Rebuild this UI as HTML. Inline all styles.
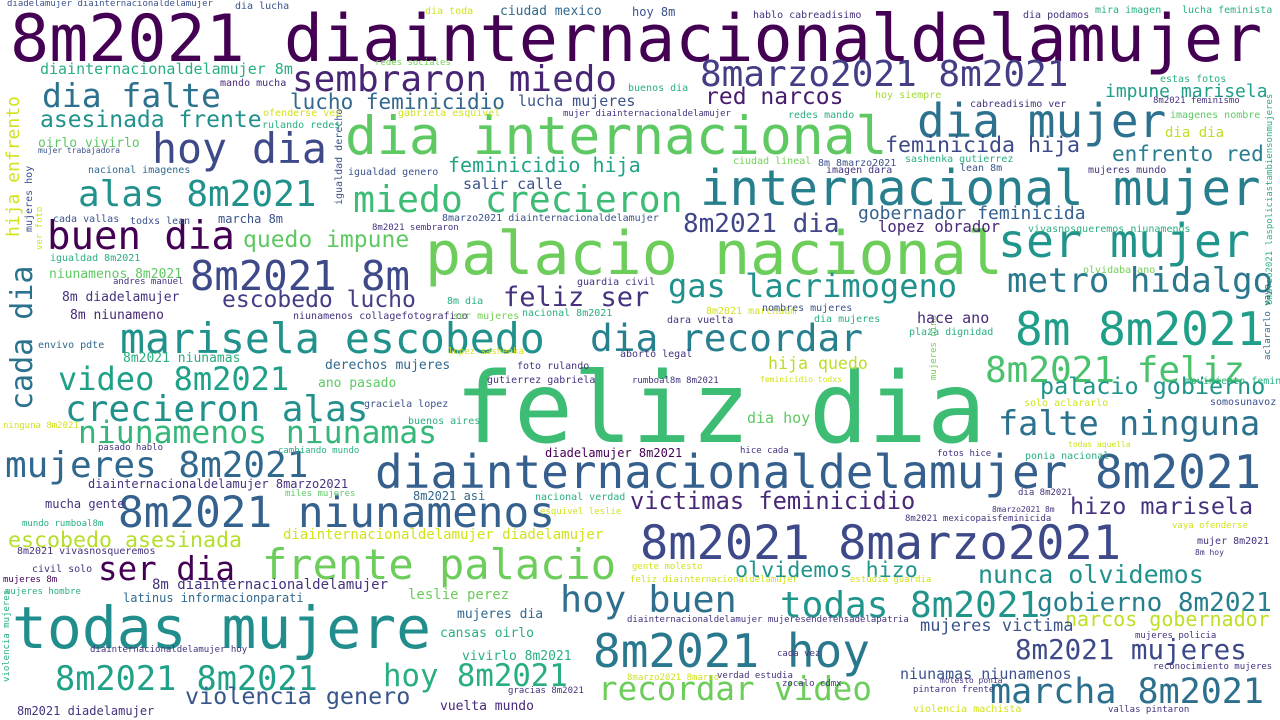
<!DOCTYPE html>
<html><head><meta charset="utf-8"><style>
html,body{margin:0;padding:0;background:#fff}
#cloud{position:relative;width:1280px;height:720px;overflow:hidden;background:#fff;font-family:"DejaVu Sans Mono","Liberation Mono",monospace}
#cloud span{position:absolute;white-space:nowrap;line-height:1}
#cloud span.v{transform-origin:0 0;transform:rotate(-90deg)}
</style></head><body>
<div id="cloud">
<span style="left:10px;top:calc(62px - .846em);font-size:65px;color:#440154">8m2021 diainternacionaldelamujer</span>
<span style="left:455px;top:calc(443px - .846em);font-size:98px;color:#3dbc74">feliz dia</span>
<span style="left:425px;top:calc(275px - .846em);font-size:60px;color:#6ccd5a">palacio nacional</span>
<span style="left:345px;top:calc(155px - .846em);font-size:53px;color:#5ec962">dia internacional</span>
<span style="left:700px;top:calc(205px - .846em);font-size:49px;color:#277f8e">internacional mujer</span>
<span style="left:917px;top:calc(137px - .846em);font-size:46px;color:#2c728e">dia mujer</span>
<span style="left:700px;top:calc(87px - .846em);font-size:36px;color:#433e85">8marzo2021 8m2021</span>
<span style="left:292px;top:calc(92px - .846em);font-size:36px;color:#482475">sembraron miedo</span>
<span style="left:705px;top:calc(105px - .846em);font-size:23px;color:#481b6d">red narcos</span>
<span style="left:1105px;top:calc(98px - .846em);font-size:18px;color:#1f9e89">impune marisela</span>
<span style="left:42px;top:calc(107px - .846em);font-size:33px;color:#2c728e">dia falte</span>
<span style="left:290px;top:calc(110px - .846em);font-size:21px;color:#31688e">lucho feminicidio</span>
<span style="left:518px;top:calc(107px - .846em);font-size:15px;color:#3b528b">lucha mujeres</span>
<span style="left:40px;top:calc(128px - .846em);font-size:23px;color:#21918c">asesinada frente</span>
<span style="left:152px;top:calc(163px - .846em);font-size:41.5px;color:#3e4989">hoy dia</span>
<span style="left:38px;top:calc(148px - .846em);font-size:13px;color:#5ec962">oirlo vivirlo</span>
<span style="left:38px;top:calc(154px - .846em);font-size:8px;color:#3b528b">mujer trabajadora</span>
<span style="left:448px;top:calc(172px - .846em);font-size:20px;color:#20a386">feminicidio hija</span>
<span style="left:885px;top:calc(153px - .846em);font-size:21.6px;color:#3e4989">feminicida hija</span>
<span style="left:1112px;top:calc(162px - .846em);font-size:21px;color:#287d8e">enfrento red</span>
<span style="left:78px;top:calc(207px - .846em);font-size:36px;color:#21918c">alas 8m2021</span>
<span style="left:353px;top:calc(213px - .846em);font-size:36.5px;color:#3dbc74">miedo crecieron</span>
<span style="left:463px;top:calc(190px - .846em);font-size:15px;color:#3b528b">salir calle</span>
<span style="left:348px;top:calc(176px - .846em);font-size:10px;color:#3b528b">igualdad genero</span>
<span style="left:683px;top:calc(233px - .846em);font-size:26px;color:#404688">8m2021 dia</span>
<span style="left:858px;top:calc(220px - .846em);font-size:18px;color:#34618d">gobernador feminicida</span>
<span style="left:878px;top:calc(233px - .846em);font-size:15.6px;color:#482878">lopez obrador</span>
<span style="left:998px;top:calc(257px - .846em);font-size:46.5px;color:#1f958b">ser mujer</span>
<span style="left:47px;top:calc(250px - .846em);font-size:39px;color:#440154">buen dia</span>
<span style="left:243px;top:calc(248px - .846em);font-size:23px;color:#5ec962">quedo impune</span>
<span style="left:190px;top:calc(290px - .846em);font-size:40.6px;color:#3e4989">8m2021 8m</span>
<span style="left:222px;top:calc(308px - .846em);font-size:23px;color:#433e85">escobedo lucho</span>
<span style="left:503px;top:calc(307px - .846em);font-size:27px;color:#46327e">feliz ser</span>
<span style="left:668px;top:calc(297px - .846em);font-size:32px;color:#20928c">gas lacrimogeno</span>
<span style="left:1007px;top:calc(293px - .846em);font-size:34px;color:#2a788e">metro hidalgo</span>
<span style="left:120px;top:calc(353px - .846em);font-size:41.5px;color:#21918c">marisela escobedo</span>
<span style="left:590px;top:calc(352px - .846em);font-size:37.8px;color:#27808e">dia recordar</span>
<span style="left:1015px;top:calc(345px - .846em);font-size:46px;color:#1f9e89">8m 8m2021</span>
<span style="left:985px;top:calc(383px - .846em);font-size:36px;color:#4ac16d">8m2021 feliz</span>
<span style="left:1040px;top:calc(395px - .846em);font-size:23.4px;color:#1f958b">palacio gobierno</span>
<span style="left:768px;top:calc(370px - .846em);font-size:16.6px;color:#bade28">hija quedo</span>
<span style="left:58px;top:calc(390px - .846em);font-size:32px;color:#1fa187">video 8m2021</span>
<span style="left:65px;top:calc(422px - .846em);font-size:36px;color:#21918c">crecieron alas</span>
<span style="left:78px;top:calc(445px - .846em);font-size:31.4px;color:#35b779">niunamenos niunamas</span>
<span style="left:998px;top:calc(435px - .846em);font-size:33.5px;color:#2c728e">falte ninguna</span>
<span style="left:5px;top:calc(478px - .846em);font-size:36px;color:#31688e">mujeres 8m2021</span>
<span style="left:375px;top:calc(488px - .846em);font-size:46px;color:#355f8d">diainternacionaldelamujer 8m2021</span>
<span style="left:630px;top:calc(510px - .846em);font-size:23.7px;color:#482878">victimas feminicidio</span>
<span style="left:1070px;top:calc(515px - .846em);font-size:23.4px;color:#46327e">hizo marisela</span>
<span style="left:118px;top:calc(528px - .846em);font-size:42.7px;color:#34618d">8m2021 niunamenos</span>
<span style="left:640px;top:calc(560px - .846em);font-size:47px;color:#3e4989">8m2021 8marzo2021</span>
<span style="left:8px;top:calc(548px - .846em);font-size:21.6px;color:#b5de2b">escobedo asesinada</span>
<span style="left:98px;top:calc(580px - .846em);font-size:32.5px;color:#440154">ser dia</span>
<span style="left:262px;top:calc(580px - .846em);font-size:42px;color:#6ccd5a">frente palacio</span>
<span style="left:735px;top:calc(578px - .846em);font-size:21.7px;color:#1f958b">olvidemos hizo</span>
<span style="left:978px;top:calc(583px - .846em);font-size:25px;color:#21918c">nunca olvidemos</span>
<span style="left:12px;top:calc(648px - .846em);font-size:58px;color:#218e8d">todas mujere</span>
<span style="left:560px;top:calc(613px - .846em);font-size:36.7px;color:#2e6f8e">hoy buen</span>
<span style="left:780px;top:calc(618px - .846em);font-size:36px;color:#1f958b">todas 8m2021</span>
<span style="left:1037px;top:calc(612px - .846em);font-size:26px;color:#277f8e">gobierno 8m2021</span>
<span style="left:1065px;top:calc(626px - .846em);font-size:20px;color:#bddf26">narcos gobernador</span>
<span style="left:598px;top:calc(700px - .846em);font-size:32.5px;color:#6ccd5a">recordar video</span>
<span style="left:593px;top:calc(667px - .846em);font-size:46px;color:#2a788e">8m2021 hoy</span>
<span style="left:1015px;top:calc(660px - .846em);font-size:27.5px;color:#3e4989">8m2021 mujeres</span>
<span style="left:55px;top:calc(690px - .846em);font-size:33.6px;color:#1fa187">8m2021 8m2021</span>
<span style="left:383px;top:calc(688px - .846em);font-size:30.7px;color:#29af7f">hoy 8m2021</span>
<span style="left:185px;top:calc(705px - .846em);font-size:23.4px;color:#39568c">violencia genero</span>
<span style="left:990px;top:calc(705px - .846em);font-size:35px;color:#2d708e">marcha 8m2021</span>
<span style="left:920px;top:calc(632px - .846em);font-size:17px;color:#3b528b">mujeres victima</span>
<span style="left:900px;top:calc(680px - .846em);font-size:15px;color:#3b528b">niunamas niunamenos</span>

<span class="v" style="left:8px;top:410px;font-size:30px;color:#2c728e">cada dia</span>
<span class="v" style="left:5px;top:237px;font-size:18px;color:#d2e21b">hija enfrento</span>
<span class="v" style="left:335px;top:205px;font-size:10px;color:#3b528b">igualdad derecho</span>
<span class="v" style="left:25px;top:232px;font-size:10px;color:#3b528b">mujeres hoy</span>
<span class="v" style="left:36px;top:250px;font-size:9px;color:#d2e21b">ver foto</span>
<span class="v" style="left:1266px;top:305px;font-size:9px;color:#29af7f">8marzo2021 laspoliciastambiensonmujeres</span>
<span class="v" style="left:1264px;top:360px;font-size:9px;color:#31688e">aclararlo vaya</span>
<span class="v" style="left:930px;top:380px;font-size:9px;color:#73d056">mujeres nina</span>
<span class="v" style="left:3px;top:682px;font-size:9px;color:#29af7f">violencia mujeres</span>

<span style="left:7px;top:calc(8px - .846em);font-size:9px;color:#3b528b">diadelamujer diainternacionaldelamujer</span>
<span style="left:235px;top:calc(10px - .846em);font-size:10px;color:#3b528b">dia lucha</span>
<span style="left:425px;top:calc(15px - .846em);font-size:10px;color:#d2e21b">dia toda</span>
<span style="left:500px;top:calc(16px - .846em);font-size:13px;color:#31688e">ciudad mexico</span>
<span style="left:632px;top:calc(16px - .846em);font-size:12px;color:#3b528b">hoy 8m</span>
<span style="left:753px;top:calc(19px - .846em);font-size:10px;color:#46327e">hablo cabreadisimo</span>
<span style="left:1023px;top:calc(19px - .846em);font-size:10px;color:#46327e">dia podamos</span>
<span style="left:1095px;top:calc(14px - .846em);font-size:10px;color:#29af7f">mira imagen</span>
<span style="left:1182px;top:calc(14px - .846em);font-size:10px;color:#29af7f">lucha feminista</span>
<span style="left:40px;top:calc(75px - .846em);font-size:15px;color:#29af7f">diainternacionaldelamujer 8m</span>
<span style="left:375px;top:calc(67px - .846em);font-size:9px;color:#73d056">redes sociales</span>
<span style="left:220px;top:calc(87px - .846em);font-size:10px;color:#482878">mando mucha</span>
<span style="left:628px;top:calc(92px - .846em);font-size:10px;color:#29af7f">buenos dia</span>
<span style="left:1160px;top:calc(83px - .846em);font-size:10px;color:#29af7f">estas fotos</span>
<span style="left:875px;top:calc(99px - .846em);font-size:10px;color:#a0da39">hoy siempre</span>
<span style="left:970px;top:calc(108px - .846em);font-size:10px;color:#46327e">cabreadisimo ver</span>
<span style="left:1153px;top:calc(105px - .846em);font-size:9px;color:#46327e">8m2021 feminismo</span>
<span style="left:563px;top:calc(118px - .846em);font-size:9px;color:#46327e">mujer diainternacionaldelamujer</span>
<span style="left:263px;top:calc(117px - .846em);font-size:10px;color:#d2e21b">ofenderse vez</span>
<span style="left:398px;top:calc(117px - .846em);font-size:10px;color:#d2e21b">gabriela esquivel</span>
<span style="left:262px;top:calc(129px - .846em);font-size:10px;color:#29af7f">rulando redes</span>
<span style="left:788px;top:calc(119px - .846em);font-size:10px;color:#29af7f">redes mando</span>
<span style="left:1170px;top:calc(119px - .846em);font-size:10px;color:#5ec962">imagenes nombre</span>
<span style="left:1165px;top:calc(138px - .846em);font-size:14px;color:#bddf26">dia dia</span>
<span style="left:88px;top:calc(174px - .846em);font-size:10px;color:#31688e">nacional imagenes</span>
<span style="left:733px;top:calc(165px - .846em);font-size:10px;color:#73d056">ciudad lineal</span>
<span style="left:818px;top:calc(167px - .846em);font-size:10px;color:#3b528b">8m 8marzo2021</span>
<span style="left:905px;top:calc(163px - .846em);font-size:10px;color:#29af7f">sashenka gutierrez</span>
<span style="left:826px;top:calc(174px - .846em);font-size:10px;color:#46327e">imagen dara</span>
<span style="left:960px;top:calc(172px - .846em);font-size:10px;color:#3b528b">lean 8m</span>
<span style="left:1088px;top:calc(174px - .846em);font-size:10px;color:#46327e">mujeres mundo</span>
<span style="left:53px;top:calc(223px - .846em);font-size:10px;color:#3b528b">cada vallas</span>
<span style="left:130px;top:calc(225px - .846em);font-size:10px;color:#3b528b">todxs lean</span>
<span style="left:218px;top:calc(223px - .846em);font-size:12px;color:#3b528b">marcha 8m</span>
<span style="left:442px;top:calc(222px - .846em);font-size:10px;color:#3b528b">8marzo2021 diainternacionaldelamujer</span>
<span style="left:372px;top:calc(232px - .846em);font-size:9px;color:#46327e">8m2021 sembraron</span>
<span style="left:1028px;top:calc(233px - .846em);font-size:10px;color:#29af7f">vivasnosqueremos niunamenos</span>
<span style="left:50px;top:calc(262px - .846em);font-size:10px;color:#29af7f">igualdad 8m2021</span>
<span style="left:49px;top:calc(279px - .846em);font-size:13px;color:#5ec962">niunamenos 8m2021</span>
<span style="left:113px;top:calc(286px - .846em);font-size:9px;color:#46327e">andres manuel</span>
<span style="left:62px;top:calc(302px - .846em);font-size:13px;color:#46327e">8m diadelamujer</span>
<span style="left:70px;top:calc(320px - .846em);font-size:13px;color:#482878">8m niunameno</span>
<span style="left:577px;top:calc(286px - .846em);font-size:10px;color:#46327e">guardia civil</span>
<span style="left:1083px;top:calc(274px - .846em);font-size:10px;color:#73d056">olvidaba ano</span>
<span style="left:447px;top:calc(305px - .846em);font-size:10px;color:#29af7f">8m dia</span>
<span style="left:293px;top:calc(320px - .846em);font-size:10px;color:#46327e">niunamenos collagefotografico</span>
<span style="left:453px;top:calc(320px - .846em);font-size:10px;color:#73d056">ser mujeres</span>
<span style="left:522px;top:calc(317px - .846em);font-size:10px;color:#29af7f">nacional 8m2021</span>
<span style="left:706px;top:calc(315px - .846em);font-size:10px;color:#d2e21b">8m2021 marcha8m</span>
<span style="left:762px;top:calc(312px - .846em);font-size:10px;color:#3b528b">nombres mujeres</span>
<span style="left:667px;top:calc(324px - .846em);font-size:10px;color:#46327e">dara vuelta</span>
<span style="left:814px;top:calc(323px - .846em);font-size:10px;color:#29af7f">dia mujeres</span>
<span style="left:917px;top:calc(324px - .846em);font-size:15px;color:#482878">hace ano</span>
<span style="left:909px;top:calc(336px - .846em);font-size:10px;color:#29af7f">plaza dignidad</span>
<span style="left:38px;top:calc(349px - .846em);font-size:10px;color:#31688e">envivo pdte</span>
<span style="left:123px;top:calc(363px - .846em);font-size:13px;color:#29af7f">8m2021 niunamas</span>
<span style="left:325px;top:calc(370px - .846em);font-size:13px;color:#31688e">derechos mujeres</span>
<span style="left:318px;top:calc(388px - .846em);font-size:13px;color:#5ec962">ano pasado</span>
<span style="left:448px;top:calc(356px - .846em);font-size:9px;color:#d2e21b">lopez sashenka</span>
<span style="left:620px;top:calc(358px - .846em);font-size:10px;color:#46327e">aborto legal</span>
<span style="left:517px;top:calc(370px - .846em);font-size:10px;color:#46327e">foto rulando</span>
<span style="left:487px;top:calc(384px - .846em);font-size:10px;color:#46327e">gutierrez gabriela</span>
<span style="left:632px;top:calc(385px - .846em);font-size:9px;color:#46327e">rumboal8m 8m2021</span>
<span style="left:760px;top:calc(383px - .846em);font-size:8px;color:#d2e21b">feminicidio todxs</span>
<span style="left:364px;top:calc(408px - .846em);font-size:10px;color:#3b528b">graciela lopez</span>
<span style="left:408px;top:calc(425px - .846em);font-size:10px;color:#29af7f">buenos aires</span>
<span style="left:747px;top:calc(424px - .846em);font-size:15px;color:#5ec962">dia hoy</span>
<span style="left:1024px;top:calc(407px - .846em);font-size:10px;color:#d2e21b">solo aclararlo</span>
<span style="left:1185px;top:calc(385px - .846em);font-size:10px;color:#29af7f">movimiento feminista</span>
<span style="left:1210px;top:calc(406px - .846em);font-size:10px;color:#3b528b">somosunavoz 8m</span>
<span style="left:3px;top:calc(430px - .846em);font-size:9px;color:#d2e21b">ninguna 8m2021</span>
<span style="left:98px;top:calc(452px - .846em);font-size:9px;color:#46327e">pasado hablo</span>
<span style="left:278px;top:calc(455px - .846em);font-size:9px;color:#29af7f">cambiando mundo</span>
<span style="left:740px;top:calc(455px - .846em);font-size:9px;color:#46327e">hice cada</span>
<span style="left:937px;top:calc(458px - .846em);font-size:9px;color:#46327e">fotos hice</span>
<span style="left:1025px;top:calc(460px - .846em);font-size:10px;color:#29af7f">ponia nacional</span>
<span style="left:1068px;top:calc(448px - .846em);font-size:8px;color:#d2e21b">todas aquella</span>
<span style="left:545px;top:calc(457px - .846em);font-size:12px;color:#440154">diadelamujer 8m2021</span>
<span style="left:88px;top:calc(488px - .846em);font-size:12px;color:#46327e">diainternacionaldelamujer 8marzo2021</span>
<span style="left:45px;top:calc(508px - .846em);font-size:12px;color:#46327e">mucha gente</span>
<span style="left:285px;top:calc(498px - .846em);font-size:9px;color:#5ec962">miles mujeres</span>
<span style="left:413px;top:calc(500px - .846em);font-size:12px;color:#31688e">8m2021 asi</span>
<span style="left:535px;top:calc(501px - .846em);font-size:10px;color:#29af7f">nacional verdad</span>
<span style="left:1018px;top:calc(497px - .846em);font-size:9px;color:#46327e">dia 8m2021</span>
<span style="left:992px;top:calc(513px - .846em);font-size:8px;color:#46327e">8marzo2021 8m</span>
<span style="left:22px;top:calc(528px - .846em);font-size:9px;color:#29af7f">mundo rumboal8m</span>
<span style="left:540px;top:calc(516px - .846em);font-size:9px;color:#d2e21b">esquivel leslie</span>
<span style="left:905px;top:calc(523px - .846em);font-size:9px;color:#46327e">8m2021 mexicopaisfeminicida</span>
<span style="left:1172px;top:calc(530px - .846em);font-size:9px;color:#d2e21b">vaya ofenderse</span>
<span style="left:1197px;top:calc(545px - .846em);font-size:10px;color:#46327e">mujer 8m2021</span>
<span style="left:283px;top:calc(540px - .846em);font-size:14px;color:#d2e21b">diainternacionaldelamujer diadelamujer</span>
<span style="left:1195px;top:calc(556px - .846em);font-size:8px;color:#46327e">8m hoy</span>
<span style="left:17px;top:calc(555px - .846em);font-size:10px;color:#46327e">8m2021 vivasnosqueremos</span>
<span style="left:32px;top:calc(573px - .846em);font-size:10px;color:#46327e">civil solo</span>
<span style="left:152px;top:calc(590px - .846em);font-size:14px;color:#46327e">8m diainternacionaldelamujer</span>
<span style="left:632px;top:calc(571px - .846em);font-size:9px;color:#d2e21b">gente molesto</span>
<span style="left:630px;top:calc(584px - .846em);font-size:9px;color:#d2e21b">feliz diainternacionaldelamujer</span>
<span style="left:850px;top:calc(584px - .846em);font-size:9px;color:#d2e21b">estudia guardia</span>
<span style="left:3px;top:calc(584px - .846em);font-size:9px;color:#440154">mujeres 8m</span>
<span style="left:5px;top:calc(596px - .846em);font-size:9px;color:#29af7f">mujeres hombre</span>
<span style="left:123px;top:calc(602px - .846em);font-size:12px;color:#31688e">latinus informacionparati</span>
<span style="left:408px;top:calc(600px - .846em);font-size:14px;color:#6ccd5a">leslie perez</span>
<span style="left:457px;top:calc(619px - .846em);font-size:13px;color:#31688e">mujeres dia</span>
<span style="left:440px;top:calc(638px - .846em);font-size:13px;color:#29af7f">cansas oirlo</span>
<span style="left:627px;top:calc(624px - .846em);font-size:9px;color:#46327e">diainternacionaldelamujer mujeresendefensadelapatria</span>
<span style="left:1135px;top:calc(640px - .846em);font-size:9px;color:#46327e">mujeres policia</span>
<span style="left:90px;top:calc(654px - .846em);font-size:9px;color:#46327e">diainternacionaldelamujer hoy</span>
<span style="left:462px;top:calc(661px - .846em);font-size:13px;color:#29af7f">vivirlo 8m2021</span>
<span style="left:777px;top:calc(658px - .846em);font-size:9px;color:#46327e">cada vez</span>
<span style="left:1153px;top:calc(671px - .846em);font-size:9px;color:#46327e">reconocimiento mujeres</span>
<span style="left:717px;top:calc(680px - .846em);font-size:9px;color:#46327e">verdad estudia</span>
<span style="left:627px;top:calc(682px - .846em);font-size:9px;color:#d2e21b">8marzo2021 8marzo</span>
<span style="left:782px;top:calc(688px - .846em);font-size:9px;color:#46327e">zocalo cdmx</span>
<span style="left:940px;top:calc(684px - .846em);font-size:8px;color:#46327e">molesto ponia</span>
<span style="left:913px;top:calc(694px - .846em);font-size:9px;color:#46327e">pintaron frente</span>
<span style="left:508px;top:calc(695px - .846em);font-size:9px;color:#46327e">gracias 8m2021</span>
<span style="left:17px;top:calc(715px - .846em);font-size:12px;color:#46327e">8m2021 diadelamujer</span>
<span style="left:440px;top:calc(711px - .846em);font-size:13px;color:#482878">vuelta mundo</span>
<span style="left:913px;top:calc(713px - .846em);font-size:10px;color:#d2e21b">violencia machista</span>
<span style="left:1108px;top:calc(714px - .846em);font-size:9px;color:#46327e">vallas pintaron</span>
</div>
</body></html>
